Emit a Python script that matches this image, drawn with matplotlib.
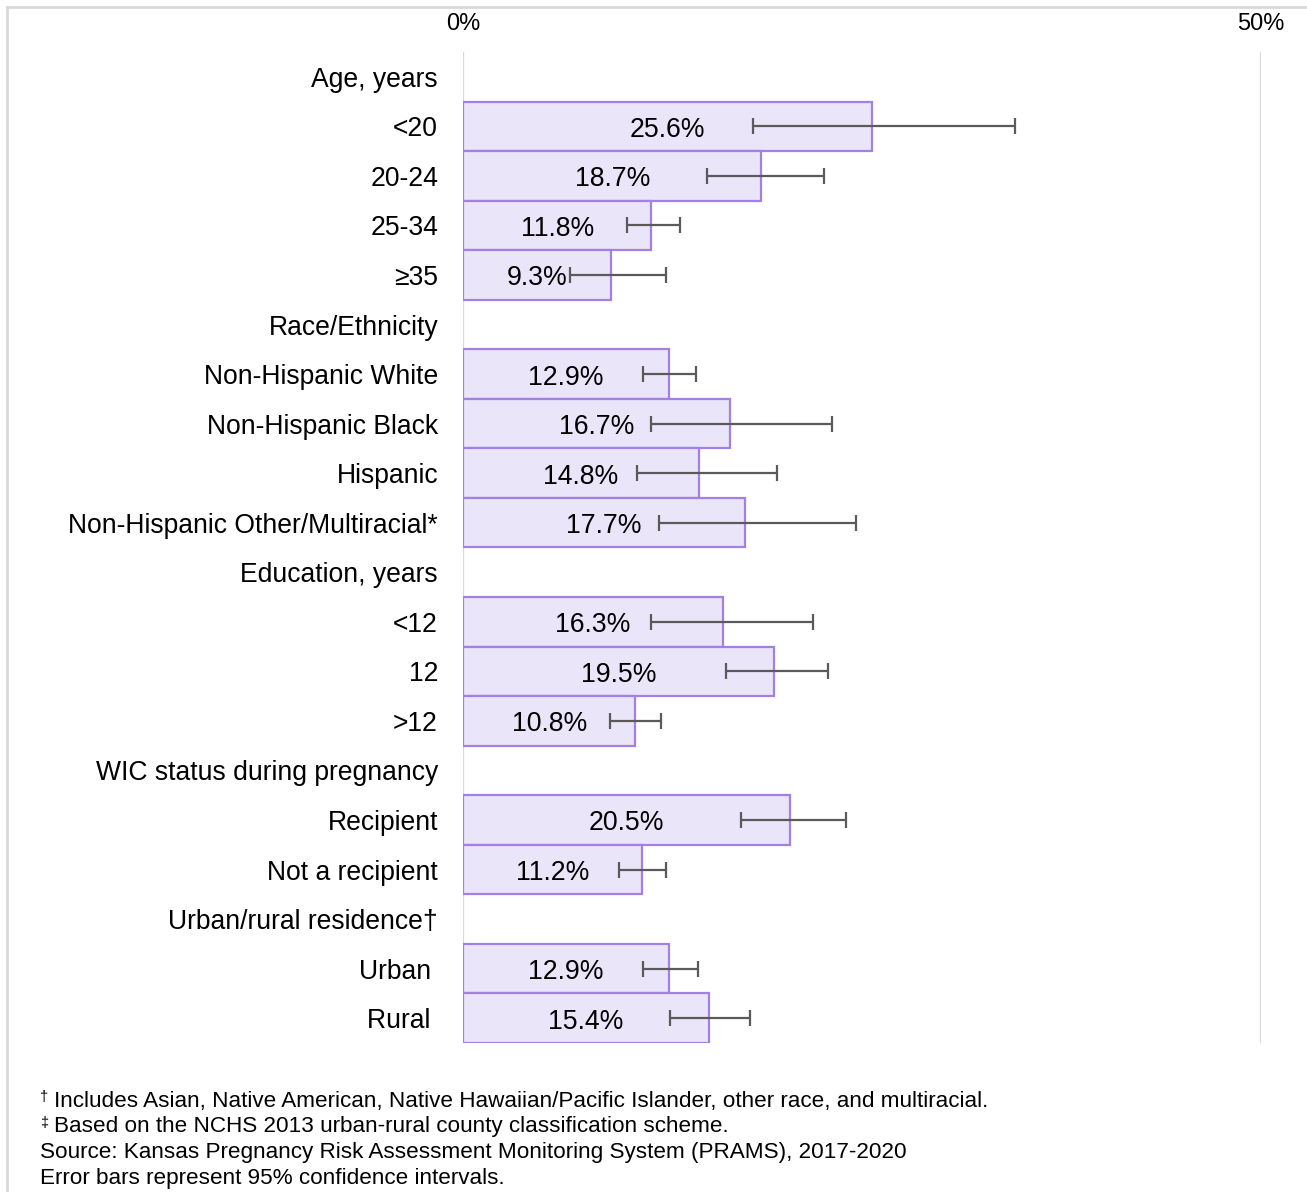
import numpy as np
import matplotlib.pyplot as plt
from matplotlib.lines import Line2D

plt.rcParams['font.family'] = ['Liberation Sans', 'DejaVu Sans']

# rows top to bottom, None = group heading (no bar)
labels = ['Age, years', '<20', '20-24', '25-34', '\u226535',
          'Race/Ethnicity', 'Non-Hispanic White', 'Non-Hispanic Black', 'Hispanic',
          'Non-Hispanic Other/Multiracial*',
          'Education, years', '<12', '12', '>12',
          'WIC status during pregnancy', 'Recipient', 'Not a recipient',
          'Urban/rural residence\u2020', 'Urban ', 'Rural ']
pct = [None, 25.6, 18.7, 11.8, 9.3,
       None, 12.9, 16.7, 14.8, 17.7,
       None, 16.3, 19.5, 10.8,
       None, 20.5, 11.2,
       None, 12.9, 15.4]
ci_lo = [None, 18.2, 15.3, 10.3, 6.7,
         None, 11.3, 11.8, 10.9, 12.3,
         None, 11.8, 16.5, 9.2,
         None, 17.4, 9.8,
         None, 11.3, 13.0]
ci_hi = [None, 34.6, 22.6, 13.6, 12.7,
         None, 14.6, 23.1, 19.7, 24.6,
         None, 21.9, 22.9, 12.4,
         None, 24.0, 12.7,
         None, 14.7, 18.0]

notes = ['Includes Asian, Native American, Native Hawaiian/Pacific Islander, other race, and multiracial.',
         'Based on the NCHS 2013 urban-rural county classification scheme.',
         'Source: Kansas Pregnancy Risk Assessment Monitoring System (PRAMS), 2017-2020',
         'Error bars represent 95% confidence intervals.']
note_marks = ['\u2020', '\u2021', '', '']

fig = plt.figure(figsize=(13.07, 11.92), dpi=100)
ax = fig.add_axes([463/1307, 1 - 1043/1192, 798/1307, 991/1192])

y = np.arange(len(labels))
idx = [i for i, v in enumerate(pct) if v is not None]
vals = np.array([pct[i] for i in idx])
lo = np.array([ci_lo[i] for i in idx])
hi = np.array([ci_hi[i] for i in idx])

ax.barh(y[idx], vals, height=1.0, color='#EBE5F9', edgecolor='#A280E6', linewidth=1.6, zorder=2)
ax.errorbar((lo + hi) / 2, y[idx], xerr=(hi - lo) / 2, fmt='none', ecolor='#5A5A5A',
            elinewidth=1.6, capsize=6, capthick=1.6, zorder=3)
for yy, v in zip(y[idx], vals):
    ax.text(v / 2, yy + 0.07, f'{v:.1f}%', ha='center', va='center', fontsize=19.2, color='black', zorder=4)

ax.set_xlim(0, 50)
ax.set_ylim(len(labels) - 0.5, -0.5)
ax.xaxis.tick_top()
ax.set_xticks([0, 50])
ax.set_xticklabels(['0%', '50%'], fontsize=17)
ax.tick_params(axis='x', length=0, pad=12)
ax.set_yticks(y)
ax.set_yticklabels(labels, fontsize=19.1)
ax.tick_params(axis='y', length=0, pad=18)
for s in ax.spines.values():
    s.set_visible(False)
ax.grid(axis='x', color='#D9D9D9', linewidth=1.6, zorder=0)
ax.set_axisbelow(True)

# outer frame, left and top edges
fig.add_artist(Line2D([7/1307, 7/1307], [0, 1 - 7/1192], transform=fig.transFigure, color='#D9D9D9', lw=2))
fig.add_artist(Line2D([7/1307, 1], [1 - 7/1192, 1 - 7/1192], transform=fig.transFigure, color='#D9D9D9', lw=2))

for k, (m, t) in enumerate(zip(note_marks, notes)):
    yc = 1 - (1101 + 25.7 * k) / 1192
    x0 = 40 / 1307
    if m:
        fig.text(x0, yc + 4/1192, m, fontsize=10.5, ha='left', va='center')
        x0 = 54 / 1307
    fig.text(x0, yc, t, fontsize=16.2, ha='left', va='center')

fig.savefig('out.png', dpi=100)
